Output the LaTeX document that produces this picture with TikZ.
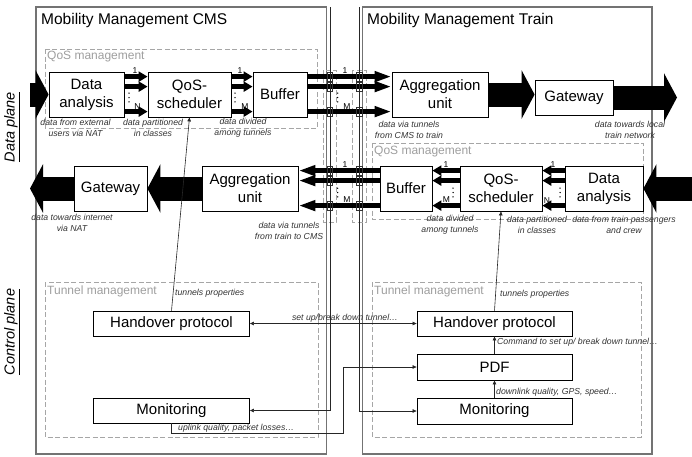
\documentclass[tikz,border=0pt]{standalone}
\usepackage{fontspec}
\setmainfont{Liberation Sans}
\usetikzlibrary{arrows.meta}
\begin{document}
\begin{tikzpicture}[x=1pt,y=-1pt,
  box/.style={draw=black, line width=0.8pt, fill=white, inner sep=1pt, align=center,
    font=\fontsize{15}{18}\selectfont},
  rowbox/.style={box, minimum height=45pt},
  ctlbox/.style={box, minimum width=156pt},
  obox/.style={draw=black!55, line width=1.3pt},
  dbox/.style={draw=black!35, line width=0.7pt, dash pattern=on 5pt off 2.5pt},
  title/.style={anchor=west, inner sep=0pt, font=\fontsize{15.5}{18}\selectfont},
  gtitle/.style={anchor=west, inner sep=0pt, text=black!38, font=\fontsize{12}{14}\selectfont},
  lab/.style={inner sep=0pt, align=center, text=black!80, font=\fontsize{8.7}{10.8}\selectfont\itshape},
  llab/.style={lab, anchor=west},
  num/.style={inner sep=0pt, font=\fontsize{8.5}{10}\selectfont},
  plane/.style={rotate=90, inner sep=0pt, font=\fontsize{14.5}{16}\selectfont\itshape},
  fat/.style={line width=24pt, -{Triangle[length=13pt,width=48pt]}},
  tun/.style={line width=5pt, -{Triangle[length=9pt,width=10pt]}},
  longtun/.style={line width=5pt, -{Triangle[length=17pt,width=10pt]}},
  ctl/.style={draw=black!85, line width=0.6pt, -{Triangle[length=4pt,width=3.5pt]}},
  ctl2/.style={ctl, {Triangle[length=4pt,width=3.5pt]}-{Triangle[length=4pt,width=3.5pt]}},
  port/.style={draw=black!80, line width=0.6pt}
]
\useasboundingbox (0,0) rectangle (692,456);

% side captions
\node[plane] (dplane) at (12,127) {\underline{Data plane}};
\node[plane] (cplane) at (12,332) {\underline{Control plane}};

% the two mobility management entities
\draw[obox] (36,7) rectangle (326.5,454);
\draw[obox] (362.5,7) rectangle (652,454);
\node[title] (tC) at (41,20) {Mobility Management CMS};
\node[title] (tT) at (367,20) {Mobility Management Train};

% management groups
\draw[dbox] (45,49) rectangle (317,128);
\draw[dbox] (372,143) rectangle (643,219);
\draw[dbox] (45,282) rectangle (318,437);
\draw[dbox] (372,282) rectangle (641,437);
\node[gtitle] (gq1) at (47,57) {QoS management};
\node[gtitle] (gq2) at (374,152) {QoS management};
\node[gtitle] (gt1) at (47,291) {Tunnel management};
\node[gtitle] (gt2) at (374,291) {Tunnel management};

% tunnel end points
\draw[dbox] (323,70) rectangle (336,222);
\draw[dbox] (352,70) rectangle (366,222);

% CMS data plane
\node[rowbox, minimum width=75pt] (daC) at (86.5,94.5) {Data\\analysis};
\node[rowbox, minimum width=83pt] (qsC) at (189.5,94.5) {QoS-\\scheduler};
\node[rowbox, minimum width=54pt] (bfC) at (280,94.5) {Buffer};
\node[rowbox, minimum width=73pt] (gwC) at (110.5,188.5) {Gateway};
\node[rowbox, minimum width=96pt] (agC) at (250,188.5) {Aggregation\\unit};

% train data plane
\node[rowbox, minimum width=96pt] (agT) at (440,94.5) {Aggregation\\unit};
\node[box, minimum width=78pt, minimum height=35pt] (gwT) at (574,97.5) {Gateway};
\node[rowbox, minimum width=52pt] (bfT) at (406,188.5) {Buffer};
\node[rowbox, minimum width=82pt] (qsT) at (501,188.5) {QoS-\\scheduler};
\node[rowbox, minimum width=78pt] (daT) at (604,188.5) {Data\\analysis};

% control plane
\node[ctlbox, minimum height=25pt] (hoC) at (171.5,323.5) {Handover protocol};
\node[ctlbox, minimum height=25pt] (moC) at (171.5,410.5) {Monitoring};
\node[ctlbox, minimum height=25pt, minimum width=155pt] (hoT) at (494.5,323.5) {Handover protocol};
\node[ctlbox, minimum height=26pt, minimum width=155pt] (pdf) at (494.5,367) {PDF};
\node[ctlbox, minimum height=26pt, minimum width=155pt] (moT) at (494.5,411) {Monitoring};

% free ends of the aggregated flows
\coordinate (inC) at (30,94.5);
\coordinate (outC) at (30,188.5);
\coordinate (outT) at (677,97.5);
\coordinate (inT) at (692,188.5);
\coordinate (tapC) at (330,7);
\coordinate (tapT) at (359.5,7);

% aggregated flows
\draw[fat] (inC) -- (daC.west);
\draw[fat] (agC.west) -- (agC.west -| gwC.east);
\draw[fat] (gwC.west) -- (outC);
\draw[fat] (agT.east) -- (agT.east -| gwT.west);
\draw[fat] (gwT.east) -- (outT);
\draw[fat] (inT) -- (daT.east);

% per-class and per-tunnel flows
\foreach \s in {5,15,40} {
  \draw[tun] ([yshift=-\s pt]daC.north east) -- ([yshift=-\s pt]qsC.north west);
  \draw[tun] ([yshift=-\s pt]qsC.north east) -- ([yshift=-\s pt]bfC.north west);
  \draw[longtun] ([yshift=-\s pt]bfC.north east) -- ([yshift=-\s pt]agT.north west);
  \draw[longtun] ([yshift=-\s pt]bfT.north west) -- ([yshift=-\s pt]agC.north east);
  \draw[tun] ([yshift=-\s pt]qsT.north west) -- ([yshift=-\s pt]bfT.north east);
  \draw[tun] ([yshift=-\s pt]daT.north west) -- ([yshift=-\s pt]qsT.north east);
}

% sockets on both tunnel ends
\foreach \ty in {77,87,112,171,181,206} {
  \draw[port] (327,\ty-4.5) rectangle (332.5,\ty+4.5);
  \draw[port] (356.5,\ty-4.5) rectangle (362,\ty+4.5);
}

% flow indices
\node[num] (n1) at (135,71) {1};
\node[num] (n2) at (137.5,107) {N};
\node[num] (n3) at (240,71) {1};
\node[num] (n4) at (245,107) {M};
\node[num] (n5) at (345,71) {1};
\node[num] (n6) at (347,107) {M};
\node[num] (n7) at (345,165) {1};
\node[num] (n8) at (347,200) {M};
\node[num] (n9) at (446,165) {1};
\node[num] (n10) at (446.5,200) {M};
\node[num] (n11) at (553,165) {1};
\node[num] (n12) at (547,200.5) {N};
\foreach \dx/\dy in {129/97.5, 235/97.5, 337.7/97.5, 337.7/192.5, 453/192.5, 560/192.5} {
  \fill (\dx,\dy-4.3) circle[radius=0.75pt] (\dx,\dy) circle[radius=0.75pt] (\dx,\dy+4.3) circle[radius=0.75pt];
}

% flow descriptions
\node[lab] (l1) at (75.5,127.5) {data from external\\users via NAT};
\node[lab] (l2) at (153,127.5) {data partitioned\\in classes};
\node[lab] (l3) at (243,127.5) {data divided\\among tunnels};
\node[lab] (l4) at (409,129.5) {data via tunnels\\from CMS to train};
\node[lab] (l5) at (630,129.5) {data towards local\\train network};
\node[lab] (l6) at (72,223) {data towards internet\\via NAT};
\node[lab] (l7) at (289,231) {data via tunnels\\from train to CMS};
\node[lab] (l8) at (450,224.5) {data divided\\among tunnels};
\node[lab] (l9) at (537,224.5) {data partitioned\\in classes};
\node[lab] (l10) at (624,224.5) {data from train passengers\\and crew};

% control relations
\draw[ctl] (hoC.north) -- (qsC.south);
\draw[ctl] (hoT.north) -- (qsT.south);
\draw[ctl] (pdf.north) -- (hoT.south);
\draw[ctl] (moT.north) -- (pdf.south);
\draw[ctl2] (hoC.east) -- (hoT.west);
\draw[ctl] (tapC) |- (moC.east);
\draw[ctl] (tapT) |- (moT.west);
\draw[ctl] (moC.south) |- (343,433) |- (pdf.west);

\node[llab] (c1) at (175,293) {tunnels properties};
\node[llab] (c2) at (500,294) {tunnels properties};
\node[lab] (c3) at (345,318) {set up/break down tunnel…};
\node[llab] (c4) at (497,342) {Command to set up/ break down tunnel…};
\node[llab] (c5) at (496,392) {downlink quality, GPS, speed…};
\node[llab] (c6) at (178,428) {uplink quality, packet losses…};
\end{tikzpicture}
\end{document}
